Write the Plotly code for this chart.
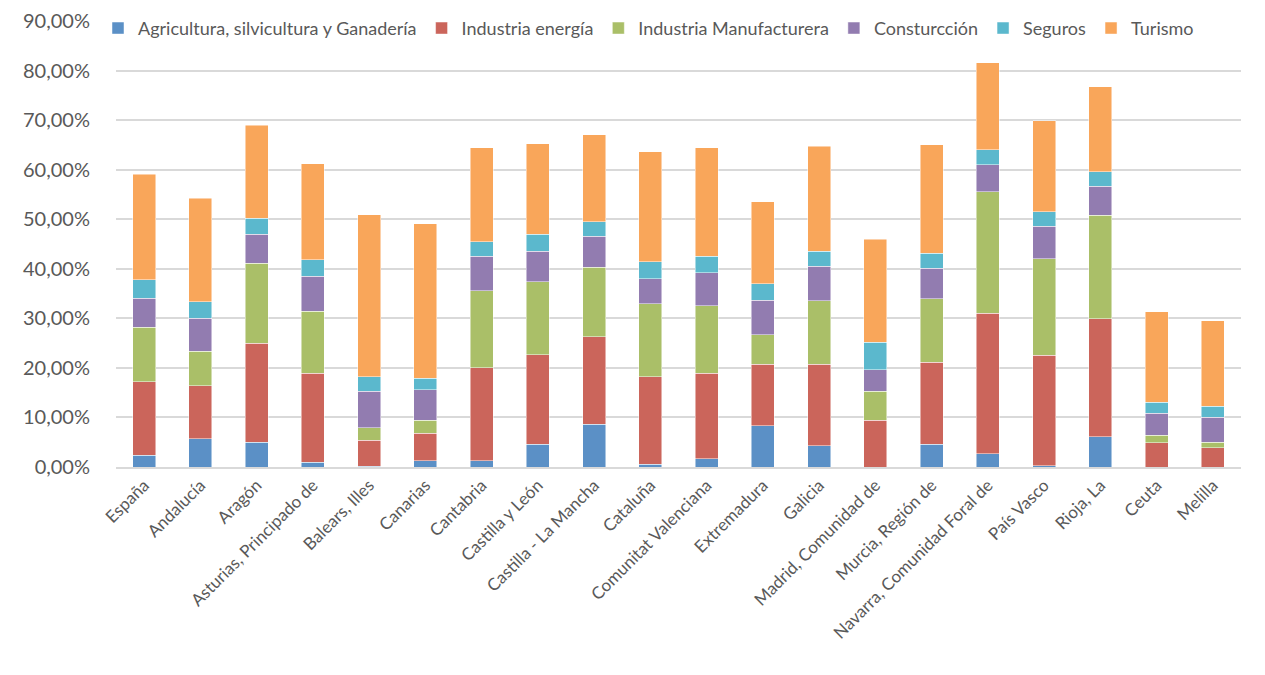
import plotly.graph_objects as go

regions = ["España", "Andalucía", "Aragón", "Asturias, Principado de", "Balears, Illes",
           "Canarias", "Cantabria", "Castilla y León", "Castilla - La Mancha", "Cataluña",
           "Comunitat Valenciana", "Extremadura", "Galicia", "Madrid, Comunidad de",
           "Murcia, Región de", "Navarra, Comunidad Foral de", "País Vasco", "Rioja, La",
           "Ceuta", "Melilla"]

agricultura = [2.37, 5.75, 5.01, 0.95, 0.20, 1.29, 1.29, 4.60, 8.66, 0.54,
               1.69, 8.32, 4.27, 0.0, 4.61, 2.72, 0.23, 6.09, 0.0, 0.0]
energia = [14.82, 10.62, 19.96, 17.99, 5.15, 5.54, 18.74, 18.07, 17.66, 17.66,
           17.25, 12.45, 16.51, 9.39, 16.50, 28.30, 22.37, 23.85, 4.94, 3.93]
manufacturera = [11.02, 6.97, 16.10, 12.52, 2.57, 2.57, 15.49, 14.68, 13.94, 14.75,
                 13.60, 5.89, 12.81, 5.86, 12.81, 24.53, 19.40, 20.82, 1.48, 1.08]
construccion = [5.82, 6.63, 5.89, 7.04, 7.37, 6.23, 6.97, 6.22, 6.29, 5.07,
                6.63, 6.97, 6.94, 4.39, 6.20, 5.46, 6.54, 5.87, 4.39, 5.06]
seguros = [3.72, 3.39, 3.24, 3.31, 2.91, 2.23, 2.98, 3.39, 2.98, 3.39,
           3.32, 3.38, 2.96, 5.52, 2.97, 3.03, 2.97, 2.96, 2.22, 2.22]
turismo = [21.32, 20.90, 18.80, 19.39, 32.75, 31.26, 18.93, 18.24, 17.47, 22.19,
           21.91, 16.51, 21.23, 20.82, 21.96, 17.52, 18.33, 17.19, 18.26, 17.25]

series = [
    ("Agricultura, silvicultura y Ganadería", agricultura, "#5b90c6"),
    ("Industria energía", energia, "#cb655b"),
    ("Industria Manufacturera", manufacturera, "#aabf68"),
    ("Consturcción", construccion, "#927cb0"),
    ("Seguros", seguros, "#5bb8cd"),
    ("Turismo", turismo, "#f9a65a"),
]

fig = go.Figure()
for name, vals, color in series:
    fig.add_trace(go.Bar(
        x=regions, y=vals, name=name,
        marker=dict(color=color, line=dict(color="rgba(255,255,255,0.6)", width=0.8)),
    ))

fig.update_layout(
    barmode="stack",
    bargap=0.59,
    width=1265, height=675,
    margin=dict(l=116, r=24, t=21, b=208, autoexpand=False),
    paper_bgcolor="white",
    plot_bgcolor="white",
    separators=",.",
    font=dict(family="Lato, 'Open Sans', sans-serif", color="#595959"),
    legend=dict(
        orientation="h", x=-0.016, xanchor="left", y=1.025, yanchor="top",
        font=dict(size=18, color="#595959"), bgcolor="rgba(0,0,0,0)",
        traceorder="normal", itemwidth=30, tracegroupgap=0,
    ),
    xaxis=dict(
        tickangle=-45, tickfont=dict(size=17, color="#595959"),
        showline=True, linecolor="#d9d9d9", linewidth=1.5,
        showgrid=False, ticks="",
    ),
    yaxis=dict(
        range=[0, 90], dtick=10, tickformat=".2f", ticksuffix="%",
        tickfont=dict(size=20, color="#595959"),
        showgrid=True, gridcolor="#d9d9d9", gridwidth=1.5,
        zeroline=False, ticklabelstandoff=25,
    ),
)

fig.write_html("out.html")
